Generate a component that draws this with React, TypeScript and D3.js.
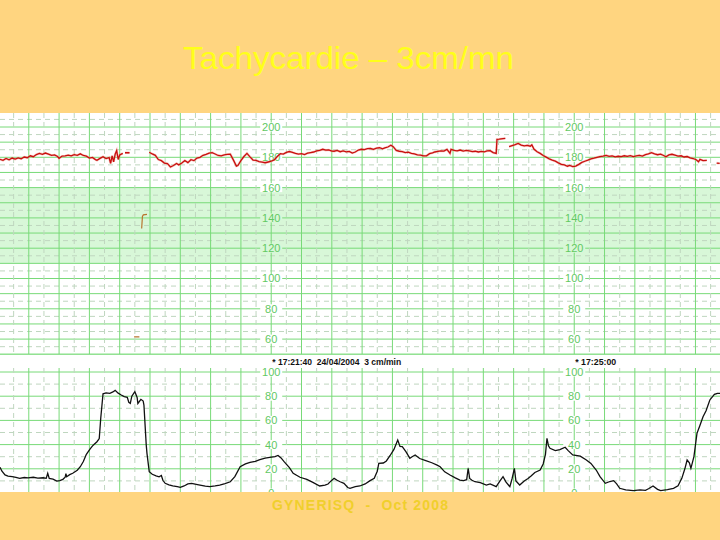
import React from 'react';
import * as d3 from 'd3';

const W = 720;
const H = 540;

const titleText = 'Tachycardie – 3cm/mn';
const footerText = 'GYNERISQ  -  Oct 2008';

// seconds from the start of the visible strip (17:18:41)
const timeMarkSeconds = [179, 379];
const timeMarkLabels = ['* 17:21:40  24/04/2004  3 cm/min', '* 17:25:00'];

const fhrTickValues = [200, 180, 160, 140, 120, 100, 80, 60];
const ucTickValues = [100, 80, 60, 40, 20, 0];
const normalBand = [110, 160];

// fetal heart rate [seconds, bpm]; null = signal loss
const fhrTrace: [number, number | null][] = [
  [0, 178.7], [2, 178], [4, 179.2], [6, 178.3], [8, 179.5], [10, 178.8], [12, 179.6], [14, 179],
  [16, 180.2], [18, 179.7], [20, 181], [22, 180.4], [24, 181.8], [26, 182.6], [28, 182], [30, 182.8],
  [32, 182.1], [34, 181.3], [36, 181.6], [38, 180.5], [39, 179.3], [41, 180.8], [43, 180.9], [45, 181.4],
  [47, 180.9], [49, 181.8], [51, 181.3], [53, 182.3], [55, 181.2], [57, 180.8], [59, 179.5], [61, 179.9],
  [63, 178.5], [64, 178], [66, 179.3], [68, 180.4], [70, 179.2], [72, 179.8], [73, 176], [74, 181],
  [75, 177], [76, 182], [77, 184.4], [78, 178.6], [79, 181.5], [81, 182.6], [81.5, null],
  [82.5, 183], [85.5, 183], [86, null],
  [98.5, 183.3], [100.5, 182.2], [102.5, 181.3], [104.5, 178.5], [106.5, 177.8], [108.5, 176.2],
  [110.5, 175.8], [112.5, 173.6], [114.5, 174.6], [116.5, 175.9], [118, 175], [120, 176.2], [122, 177.9],
  [124, 176.5], [126, 178.4], [128, 177.8], [130, 179.5], [132, 180], [134, 181.3], [136, 182],
  [138, 182.8], [140, 183.1], [142, 182.2], [144, 181.2], [146, 181], [148, 181.6], [150, 181.9],
  [152, 182.1], [154, 178.3], [156, 174.2], [157, 174.6], [159, 177.8], [161, 180.5], [163, 182.6],
  [165, 180.3], [167, 178.2], [169, 178], [171, 177.2], [173, 176.8], [175, 176.4], [177, 176.9],
  [179, 177.4], [181, 178.3], [183, 180.5], [185, 182.4], [187, 182.1], [189, 183.2], [191, 183.8],
  [193, 183.3], [195, 182.6], [197, 182.1], [199, 182.4], [201, 181.8], [203, 182.7], [205, 183.1],
  [207, 183.5], [209, 184.2], [211, 184.6], [213, 185.3], [215, 184.7], [217, 184.9], [219, 184.1],
  [220.5, 184], [222.5, 184.5], [224.5, 183.7], [226.5, 184.2], [228.5, 183.6], [230.5, 183.9],
  [232.5, 182.8], [234.5, 183.5], [236.5, 184.8], [238.5, 185.3], [240.5, 185.1], [242.5, 185.7],
  [244.5, 185.8], [246.5, 185.2], [248.5, 186.1], [250.5, 186.3], [252.5, 185.6], [254, 186.2],
  [256, 186.8], [258, 188], [259.5, 187], [261.5, 184.6], [263.5, 184], [265.5, 183.8], [267.5, 183.1],
  [269.5, 183.4], [271.5, 182.6], [273.5, 182.3], [275.5, 181.6], [277.5, 181.5], [279.5, 180.9],
  [281.5, 181], [283.5, 182.4], [285.5, 182.9], [287, 183.5], [289, 183.9], [291, 184.3], [293, 184.1],
  [295, 185.2], [297, 182.6], [297.7, 185.3], [299.7, 184.6], [301.7, 184.2], [303.7, 184.8],
  [305.7, 184.1], [307.7, 184.6], [309.7, 184.3], [311.7, 183.8], [313.7, 184], [315.7, 183.5],
  [317.7, 183.9], [319.7, 183.6], [321.5, 184.2], [323.5, 184.4], [325.5, 183.1], [327.5, 182.6],
  [328, 191.9], [329.5, 192], [332, 192.3], [333.5, 192.5], [334, null],
  [336, 187], [338, 187.7], [340, 188.4], [342, 189.2], [344, 188.1], [346, 187.5], [348, 187.9],
  [350, 187.3], [351, 188.2], [352.5, 185.3], [354.5, 183.7], [356.5, 182.6], [358.5, 181.2],
  [360.5, 180.1], [362.5, 179], [364.5, 178.2], [366.5, 177.5], [368.5, 176.3], [370.5, 175.4],
  [372.5, 175], [374.5, 174.1], [376, 174.6], [378, 173.9], [380, 174.2], [382, 175.3], [384, 176.6],
  [386, 177.4], [388, 178.1], [390, 179], [392, 179.4], [394, 180], [396, 180.5], [398, 180.8],
  [400, 181.3], [402, 180.6], [404, 180.9], [406, 180.3], [408, 180.7], [410, 180.5], [412, 181],
  [414, 180.6], [416, 181.1], [418, 180.4], [420, 180.9], [422, 181.3], [424, 180.8], [426, 181.8],
  [428, 182.2], [430, 183.1], [432, 182.3], [434, 181.7], [436, 182.1], [438, 181.2], [439.5, 180.3],
  [441.5, 181.6], [443.5, 182], [445.5, 181.4], [447.5, 180.8], [449.5, 181], [451.5, 180.2],
  [453.5, 180.5], [455.5, 179.6], [457.5, 179.2], [459.5, 178.4], [461, 177], [462, 178.6],
  [464, 177.8], [466.5, 178], [467, null],
  [473, 176.2], [475, 176],
];

// maternal / secondary channel marks [seconds, bpm]
const mhrTrace: [number, number | null][] = [
  [88.5, 61.5], [92, 61.5], [92.5, null],
  [93.5, 133], [94, 141], [94.6, 142], [97, 142.3],
];

// uterine contractions [seconds, value]
const ucTrace: [number, number][] = [
  [0, 21.2], [1.3, 18], [3.3, 14.9], [5.3, 14], [8, 13.5], [10.5, 13], [13, 12.1], [16, 12.8],
  [18.5, 12.5], [22, 13], [25, 12.3], [28.5, 12.6], [30.5, 12.1], [31.5, 16.3], [32.5, 12], [35, 11.5],
  [37.5, 9.9], [39.5, 10.2], [41.5, 11.3], [43, 13], [43.5, 16], [44, 13.5], [46, 15.2], [48, 16.3],
  [51, 18.8], [53, 21.7], [55, 26], [57, 32], [59.5, 36.5], [61.5, 39.5], [64, 42.4], [65.5, 45],
  [66.5, 62], [68, 82], [70, 82.8], [72.5, 82.4], [74.5, 83.5], [76, 84.8], [78, 82.5], [80, 81],
  [82, 79.6], [84, 79], [85, 75], [86, 74.1], [87, 80], [89, 83.7], [90.5, 79], [91, 74], [93, 77.4],
  [94.5, 76], [95, 72.7], [96.5, 40], [97, 32.8], [98.5, 17.6], [100.5, 15.5], [103, 14.2], [105, 13.4],
  [106.5, 14.5], [107.5, 10.5], [109, 8], [111.5, 6.8], [114, 5.8], [117, 5.2], [119, 4.7], [121.5, 5.8],
  [124, 7.5], [126.5, 8], [129.5, 7.2], [132, 6.6], [135.5, 5.6], [138.5, 5.2], [142, 5.8], [145, 6.6],
  [148.5, 7.8], [152, 9.3], [155, 13.5], [158.5, 21.7], [162, 24], [165, 25.3], [168.5, 26.2],
  [171.5, 27.5], [175, 28.9], [178, 29.5], [181.5, 30], [183.5, 31], [185.5, 29], [187.5, 25.9],
  [191, 21], [193.5, 16.3], [198, 13], [202.5, 11.3], [206.5, 8.8], [211, 5.8], [214.5, 6.5],
  [216.5, 7.4], [218.5, 10], [220.5, 12.1], [222.5, 10.5], [224.5, 9.3], [227, 8], [229.5, 4.5],
  [231, 3.9], [234.5, 5.2], [237.5, 5.8], [241, 7.5], [244, 10], [247, 12.1], [249, 18], [250, 24.5],
  [253, 24.8], [255, 26.5], [257.5, 31], [260, 36], [262.5, 43.8], [264, 38.5], [265.5, 38.3],
  [268, 34], [270.5, 28.7], [272, 30], [274, 31.4], [277, 28.5], [281, 26.7], [285, 25], [288.5, 23],
  [290.5, 21.7], [293.5, 17.5], [297, 14.9], [300.5, 12.5], [303.5, 10.7], [306, 10.2], [308, 11],
  [309, 20.4], [310, 12], [311.5, 10.5], [313.5, 9.3], [317, 8.5], [321, 6.6], [323.5, 7.5],
  [327.5, 5.2], [330, 10], [332, 13.5], [334, 9], [336.5, 5.2], [338, 12], [339.5, 20.4], [340.5, 10],
  [343, 6.6], [346, 10], [348.5, 12], [350.5, 14], [353, 17], [356.5, 19], [358.5, 24], [360, 32],
  [361, 45.2], [362, 39], [363, 36.9], [366.5, 35], [369.5, 35.8], [373, 37.8], [375, 35], [378, 31.4],
  [383, 30.5], [387, 27.3], [390, 24.5], [393.5, 19], [396, 13.5], [399.5, 8], [402.5, 9.5],
  [405, 10.2], [407, 7.5], [409, 3.9], [413, 2.5], [418, 1.9], [422.5, 2.5], [426, 2.2], [428, 3.5],
  [431, 5.8], [434, 3], [436, 1.9], [440.5, 2.8], [444.5, 3.9], [447.5, 6], [450, 12.1], [452, 20],
  [453.5, 27.3], [455, 25], [456, 20.4], [458, 30], [460, 49.3], [462, 56], [464, 63], [466, 68],
  [468.5, 76.9], [471.5, 81.5], [473.5, 82.4], [475.5, 82.4],
];

const x = d3.scaleLinear().domain([0, 475.2]).range([0, W]);
const yF = d3.scaleLinear().domain([50, 210]).range([354.25, 111.85]);
const yU = d3.scaleLinear().domain([0, 100]).range([493, 372]);

const chartTop = 113;
const chartBottom = 492;
const upperBottom = yF(50);
const lowerTop = 368;

const solidGreen = '#78da78';
const dashGreen = '#bfd6bf';
const labelGreen = '#62c962';
const bandFill = '#d8f7d8';

export default function App() {
  React.useEffect(() => {
    document.body.style.margin = '0';
  }, []);

  const gridSeconds = d3.range(9, 476, 10);
  const fhrLines = d3.range(50, 210, 5);
  const ucLines = d3.range(0, 101, 10);

  const fhrLine = d3
    .line<[number, number | null]>()
    .defined((d) => d[1] !== null)
    .x((d) => x(d[0]))
    .y((d) => yF(d[1] as number));
  const ucLine = d3
    .line<[number, number]>()
    .x((d) => x(d[0]))
    .y((d) => yU(d[1]));

  const isSolidTime = (s: number) => Math.abs(s - timeMarkSeconds[0]) % 20 === 0;

  return (
    <svg
      width={W}
      height={H}
      style={{ display: 'block', position: 'absolute', left: 0, top: 0 }}
      fontFamily="'Liberation Sans', Arial, sans-serif"
    >
      <defs>
        <clipPath id="clipUpper">
          <rect x={0} y={chartTop} width={W} height={upperBottom - chartTop} />
        </clipPath>
        <clipPath id="clipLower">
          <rect x={0} y={lowerTop} width={W} height={chartBottom - lowerTop} />
        </clipPath>
      </defs>
      <rect x={0} y={0} width={W} height={H} fill="#ffd580" />
      <rect x={0} y={chartTop} width={W} height={chartBottom - chartTop} fill="#ffffff" />

      {/* upper panel */}
      <g clipPath="url(#clipUpper)">
        <rect
          x={0}
          y={yF(normalBand[1])}
          width={W}
          height={yF(normalBand[0]) - yF(normalBand[1])}
          fill={bandFill}
        />
        {fhrLines.map((v) => (
          <line
            key={'fh' + v}
            x1={0}
            x2={W}
            y1={yF(v)}
            y2={yF(v)}
            stroke={v % 10 === 0 ? solidGreen : dashGreen}
            strokeDasharray={v % 10 === 0 ? undefined : '5,4'}
            strokeWidth={1}
          />
        ))}
        {gridSeconds.map((s) => (
          <line
            key={'fv' + s}
            x1={x(s)}
            x2={x(s)}
            y1={chartTop}
            y2={upperBottom}
            stroke={isSolidTime(s) ? solidGreen : dashGreen}
            strokeDasharray={isSolidTime(s) ? undefined : '5,4'}
            strokeWidth={1}
          />
        ))}
      </g>
      <line x1={0} x2={W} y1={upperBottom} y2={upperBottom} stroke={solidGreen} />

      {/* lower panel */}
      <g clipPath="url(#clipLower)">
        {ucLines.map((v) => (
          <line
            key={'uh' + v}
            x1={0}
            x2={W}
            y1={yU(v)}
            y2={yU(v)}
            stroke={v % 20 === 0 ? solidGreen : dashGreen}
            strokeDasharray={v % 20 === 0 ? undefined : '5,4'}
            strokeWidth={1}
          />
        ))}
        {gridSeconds.map((s) => (
          <line
            key={'uv' + s}
            x1={x(s)}
            x2={x(s)}
            y1={lowerTop}
            y2={chartBottom}
            stroke={isSolidTime(s) ? solidGreen : dashGreen}
            strokeDasharray={isSolidTime(s) ? undefined : '5,4'}
            strokeWidth={1}
          />
        ))}
      </g>

      {/* scale labels */}
      {timeMarkSeconds.map((s) => (
        <g key={'lab' + s}>
          <g clipPath="url(#clipUpper)">
            {fhrTickValues.map((v) => (
              <g key={'fl' + v}>
                <rect
                  x={x(s) - 11}
                  y={yF(v) - 4.5}
                  width={22}
                  height={9}
                  fill={v > normalBand[0] && v < normalBand[1] ? bandFill : '#ffffff'}
                />
                <text
                  x={x(s)}
                  y={yF(v)}
                  dy="0.36em"
                  textAnchor="middle"
                  fontSize={11}
                  fill={labelGreen}
                >
                  {v}
                </text>
              </g>
            ))}
          </g>
          <g clipPath="url(#clipLower)">
            {ucTickValues.map((v) => (
              <g key={'ul' + v}>
                <rect x={x(s) - 11} y={yU(v) - 4.5} width={22} height={9} fill="#ffffff" />
                <text
                  x={x(s)}
                  y={yU(v)}
                  dy="0.36em"
                  textAnchor="middle"
                  fontSize={11}
                  fill={labelGreen}
                >
                  {v}
                </text>
              </g>
            ))}
          </g>
        </g>
      ))}

      {/* traces */}
      <g clipPath="url(#clipUpper)">
        <path d={fhrLine(mhrTrace) || ''} fill="none" stroke="#b8742e" strokeWidth={1.2} />
        <path d={fhrLine(fhrTrace) || ''} fill="none" stroke="#f29a8a" strokeWidth={2.4} opacity={0.5} />
        <path d={fhrLine(fhrTrace) || ''} fill="none" stroke="#c80f0f" strokeWidth={1.3} />
      </g>
      <g clipPath="url(#clipLower)">
        <path d={ucLine(ucTrace) || ''} fill="none" stroke="#111111" strokeWidth={1.3} />
      </g>

      {/* time marks */}
      {timeMarkSeconds.map((s, i) => (
        <text
          key={'tm' + s}
          x={x(s) + 1}
          y={365}
          fontSize={8.5}
          fontWeight="bold"
          fill="#111111"
          textLength={i === 0 ? 129 : 41}
          lengthAdjust="spacingAndGlyphs"
          style={{ whiteSpace: 'pre' }}
        >
          {timeMarkLabels[i]}
        </text>
      ))}

      {/* title and footer */}
      <text
        x={183}
        y={69}
        fontSize={32}
        fill="#ffff1a"
        textLength={331}
        lengthAdjust="spacingAndGlyphs"
      >
        {titleText}
      </text>
      <text
        x={272}
        y={510}
        fontSize={14}
        fontWeight="bold"
        fill="#f0cf2c"
        textLength={176}
        lengthAdjust="spacing"
        style={{ whiteSpace: 'pre' }}
      >
        {footerText}
      </text>
    </svg>
  );
}
